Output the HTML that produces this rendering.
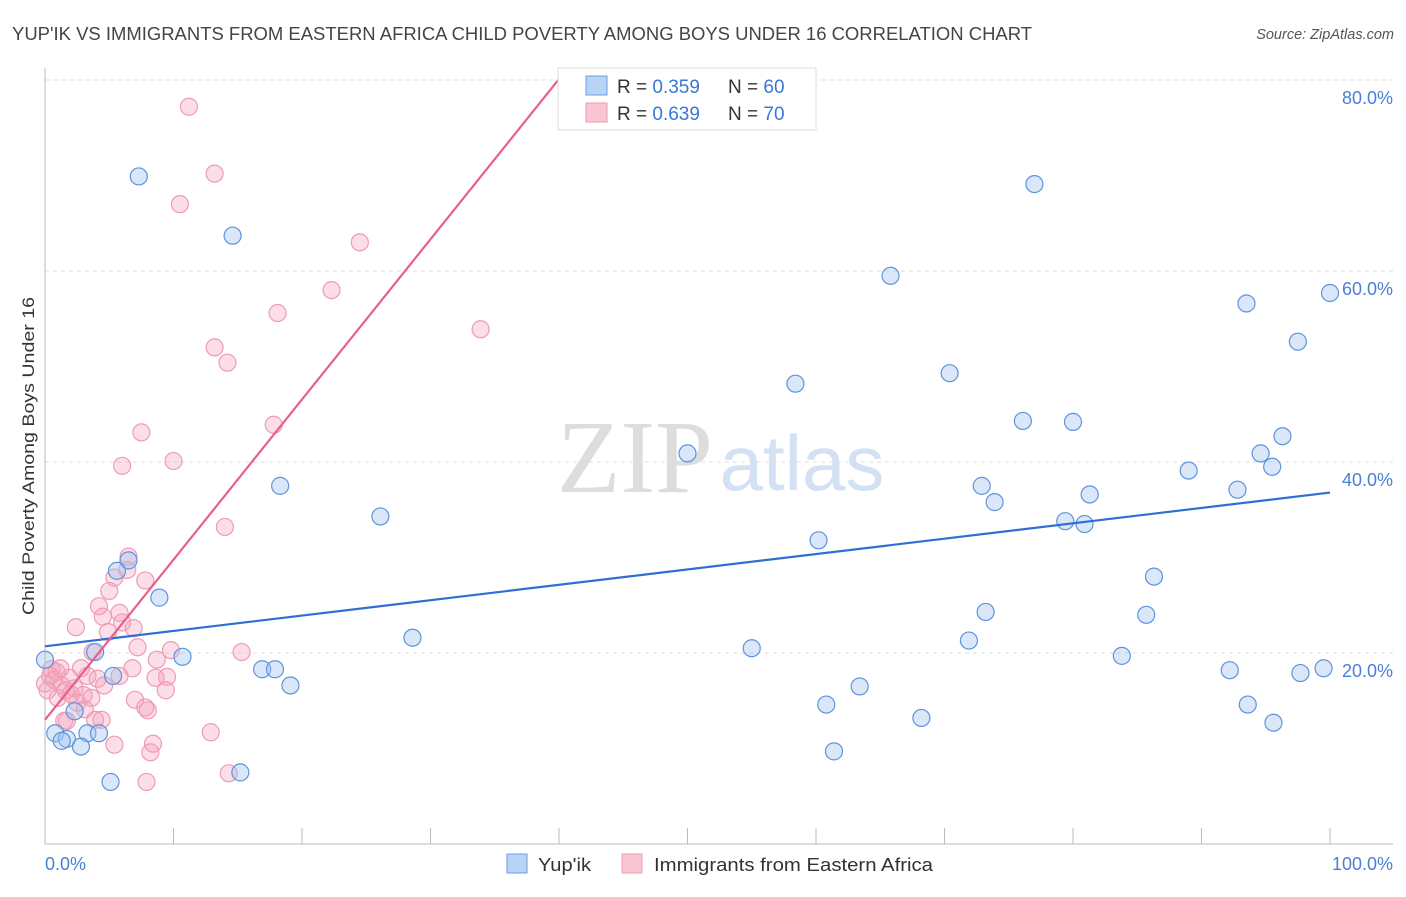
<!DOCTYPE html>
<html><head><meta charset="utf-8"><style>
body{margin:0;background:#fff;font-family:"Liberation Sans",sans-serif}
</style></head><body>
<svg width="1406" height="892" xmlns="http://www.w3.org/2000/svg">
<text x="12" y="40" font-size="18" fill="#444" textLength="1020" lengthAdjust="spacingAndGlyphs">YUP'IK VS IMMIGRANTS FROM EASTERN AFRICA CHILD POVERTY AMONG BOYS UNDER 16 CORRELATION CHART</text>
<text x="1394" y="39" font-size="14.5" fill="#555" font-style="italic" text-anchor="end">Source: ZipAtlas.com</text>
<text x="635" y="492" font-size="104" fill="#ddd" font-family="Liberation Serif,serif" text-anchor="middle">ZIP</text>
<text x="802" y="490" font-size="78" fill="#d4e1f5" text-anchor="middle">atlas</text>
<g id="grid"></g>
<g id="axes"></g>
<g id="marks"></g>
<text x="34" y="456" font-size="17" fill="#333" text-anchor="middle" textLength="318" lengthAdjust="spacingAndGlyphs" transform="rotate(-90 34 456)">Child Poverty Among Boys Under 16</text>
<text x="45" y="870" font-size="18" fill="#4a7fd6">0.0%</text>
<text x="1393" y="870" font-size="18" fill="#4a7fd6" text-anchor="end">100.0%</text>
<g>
<rect x="558" y="68" width="258" height="62" fill="#fff" stroke="#ddd"/>
<rect x="586" y="76" width="21" height="19" fill="#b9d3f5" stroke="#6d9ee0"/>
<rect x="586" y="103" width="21" height="19" fill="#f9c6d4" stroke="#ee9ab2"/>
<text x="617" y="93" font-size="19" fill="#333">R = <tspan fill="#3a78d4">0.359</tspan></text>
<text x="728" y="93" font-size="19" fill="#333">N = <tspan fill="#3a78d4">60</tspan></text>
<text x="617" y="120" font-size="19" fill="#333">R = <tspan fill="#3a78d4">0.639</tspan></text>
<text x="728" y="120" font-size="19" fill="#333">N = <tspan fill="#3a78d4">70</tspan></text>
</g>
<g>
<rect x="507" y="854" width="20" height="19" fill="#b9d3f5" stroke="#6d9ee0"/>
<text x="538" y="871" font-size="18" fill="#333" textLength="53" lengthAdjust="spacingAndGlyphs">Yup'ik</text>
<rect x="622" y="854" width="20" height="19" fill="#f9c6d4" stroke="#ee9ab2"/>
<text x="654" y="871" font-size="18" fill="#333" textLength="279" lengthAdjust="spacingAndGlyphs">Immigrants from Eastern Africa</text>
</g>
</svg>
<script>
const yTicks=[20,40,60,80];
const yTickLabels=["20.0%","40.0%","60.0%","80.0%"];
const xTicks=[0,10,20,30,40,50,60,70,80,90,100];
const blueX=[7.3,14.6,77.0,65.8,93.5,100,97.5,58.4,70.4,76.1,80.0,50.0,96.3,94.6,95.5,89.0,18.3,72.9,81.3,92.8,73.9,26.1,79.4,80.9,60.2,6.5,5.6,86.3,8.9,73.2,85.7,28.6,71.9,55.0,83.8,10.7,0,3.9,16.9,17.9,92.2,97.7,99.5,19.1,63.4,5.3,60.8,93.6,2.3,68.2,95.6,0.8,3.3,4.2,1.7,1.3,2.8,61.4,15.2,5.1];
const blueY=[69.9,63.7,69.1,59.5,56.6,57.7,52.6,48.2,49.3,44.3,44.2,40.9,42.7,40.9,39.5,39.1,37.5,37.5,36.6,37.1,35.8,34.3,33.8,33.5,31.8,29.7,28.6,28.0,25.8,24.3,24.0,21.6,21.3,20.5,19.7,19.6,19.3,20.1,18.3,18.3,18.2,17.9,18.4,16.6,16.5,17.6,14.6,14.6,13.9,13.2,12.7,11.6,11.6,11.6,11.0,10.8,10.2,9.7,7.5,6.5];
const pinkX=[11.2,13.2,10.5,24.5,22.3,18.1,33.9,13.2,14.2,17.8,7.5,10.0,6.0,14.0,6.5,6.4,5.4,7.8,5.0,4.2,5.8,4.5,6.0,2.4,6.9,4.9,7.2,3.7,9.8,15.3,8.7,6.8,2.8,0.5,0.9,9.5,8.6,0,3.3,4.1,5.8,1.9,1.3,0.7,0.2,2.3,4.6,9.4,2.0,3.0,1.0,3.6,7.0,2.5,7.8,8.0,3.1,1.5,3.9,4.4,1.7,12.9,8.4,5.4,8.2,14.3,7.9,1.2,0.4,1.6];
const pinkY=[77.2,70.2,67.0,63.0,58.0,55.6,53.9,52.0,50.4,43.9,43.1,40.1,39.6,33.2,30.1,28.7,27.9,27.6,26.5,24.9,24.2,23.8,23.2,22.7,22.6,22.2,20.6,20.1,20.3,20.1,19.3,18.4,18.4,18.3,18.0,17.5,17.4,16.8,17.6,17.3,17.6,17.4,16.6,17.2,16.1,16.3,16.6,16.1,15.7,15.6,15.3,15.3,15.1,14.8,14.3,14.0,14.1,12.9,13.0,13.0,12.9,11.7,10.5,10.4,9.6,7.4,6.5,18.4,17.6,16.1];
const blueTrend=[20.7,36.8];
const pinkTrend=[13.0,80.1,40.0];
const NS="http://www.w3.org/2000/svg";
const xs=v=>45+v*12.85, ys=v=>844-v*9.55;
function mk(t,a,p){const e=document.createElementNS(NS,t);for(const k in a)e.setAttribute(k,a[k]);document.getElementById(p).appendChild(e);return e;}
yTicks.forEach((t,i)=>{
 const g=mk('line',{x1:45,x2:1393,y1:ys(t),y2:ys(t),stroke:'#ddd','stroke-dasharray':'4,4'},'grid');
 
 
 const l=mk('text',{x:1393,y:ys(t)+24,'font-size':18,fill:'#4a7fd6','text-anchor':'end'},'grid');l.textContent=yTickLabels[i];
 
 
});
const ax=mk('line',{x1:45,x2:1393,y1:844,y2:844,stroke:'#bbb'},'axes');


const ay=mk('line',{x1:45,x2:45,y1:68,y2:844,stroke:'#bbb'},'axes');


xTicks.forEach(t=>{const k=mk('line',{x1:xs(t),x2:xs(t),y1:828,y2:844,stroke:'#bbb'},'axes');
 
 });
pinkX.forEach((v,i)=>{const c=mk('circle',{cx:xs(v),cy:ys(pinkY[i]),r:8.5,fill:'rgba(244,160,185,0.35)',stroke:'#ef9bb4','stroke-width':1.2},'marks');
 
 });
blueX.forEach((v,i)=>{const c=mk('circle',{cx:xs(v),cy:ys(blueY[i]),r:8.5,fill:'rgba(160,195,240,0.4)',stroke:'#5d94dc','stroke-width':1.2},'marks');
 
 });
const bt=mk('line',{x1:xs(0),y1:ys(blueTrend[0]),x2:xs(100),y2:ys(blueTrend[1]),stroke:'#2f6fd3','stroke-width':2.2},'marks');


const pt=mk('line',{x1:xs(0),y1:ys(pinkTrend[0]),x2:xs(pinkTrend[2]),y2:ys(pinkTrend[1]),stroke:'#e8608a','stroke-width':2.2},'marks');


</script>
</body></html>
